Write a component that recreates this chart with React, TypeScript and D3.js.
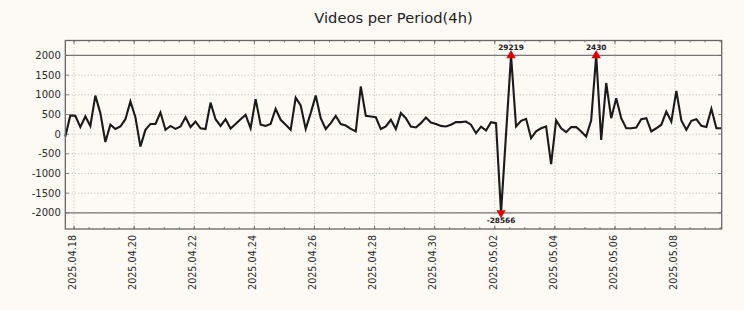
import React from "react";
import * as d3 from "d3";

// ---- data ----
const START_UTC = Date.UTC(2025, 3, 17, 17); // first 4h period
const PERIOD_HOURS = 4;
const VALUES: number[] = [
  -60, 475, 465, 180, 450, 210, 980, 535, -200, 240,
  130, 195, 380, 830, 430, -315, 110, 260, 260, 550,
  110, 210, 135, 195, 430, 180, 320, 150, 130, 800,
  380, 210, 380, 145, 260, 380, 490, 150, 890, 240,
  210, 260, 645, 365, 240, 110, 930, 730, 135, 535,
  980, 405, 130, 280, 465, 255, 220, 135, 70, 1210,
  465, 450, 430, 130, 195, 365, 130, 535, 405, 195,
  170, 280, 425, 295, 260, 210, 195, 240, 305, 305,
  320, 240, 25, 190, 95, 305, 280, -28566, 0, 29219,
  195, 340, 390, -100, 70, 150, 195, -760, 350, 150,
  50, 180, 180, 70, -60, 350, 2430, -145, 1300, 405,
  915, 405, 150, 150, 170, 380, 405, 70, 150, 240,
  575, 320, 1100, 350, 110, 340, 380, 210, 180, 645,
  150, 150,
];
const Y_TICKS = [2000, 1500, 1000, 500, 0, -500, -1000, -1500, -2000];
const X_TICK_LABELS = [
  "2025.04.18", "2025.04.20", "2025.04.22", "2025.04.24", "2025.04.26",
  "2025.04.28", "2025.04.30", "2025.05.02", "2025.05.04", "2025.05.06", "2025.05.08",
];
const CLIP = 2000;
const TITLE = "Videos per Period(4h)";

const W = 744, H = 310;
const PL = 65.3, PR = 721.7, PT = 40.5, PB = 229;
const BG = "#fdf9f4";
const FONT = "DejaVu Sans, sans-serif";

export default function App() {
  const times = VALUES.map((_, i) => new Date(START_UTC + i * PERIOD_HOURS * 3600e3));
  const pts = VALUES.map((v, i) => ({ t: times[i], v, c: Math.max(-CLIP, Math.min(CLIP, v)) }));
  const x = d3.scaleUtc().domain([times[0], times[times.length - 1]]).range([PL, 721.4]);
  const y = d3.scaleLinear().domain([-2410, 2380]).range([PB, PT]);
  const parse = d3.utcParse("%Y.%m.%d");
  const xTicks = X_TICK_LABELS.map((s) => ({ s, d: parse(s) as Date }));
  const minor = d3.utcHour.every(12)!.range(new Date(START_UTC), times[times.length - 1]);
  const line = d3.line<any>().x((d) => x(d.t)).y((d) => y(d.c));
  const extremes = pts.filter((p) => Math.abs(p.v) > CLIP);
  const tri = d3.symbol().type(d3.symbolTriangle).size(38)();

  return (
    <svg width={W} height={H} style={{ position: "absolute", left: 0, top: 0 }} fontFamily={FONT}>
      <rect x={0} y={0} width={W} height={H} fill={BG} />
      <text x={(PL + PR) / 2} y={23} textAnchor="middle" fontSize={14.7} fill="#222">{TITLE}</text>
      {/* grid */}
      {Y_TICKS.map((t) => (
        <line key={"gy" + t} x1={PL} x2={PR} y1={y(t)} y2={y(t)} stroke="#b8b8b8" strokeWidth={0.8} strokeDasharray="1.2,2" />
      ))}
      {xTicks.map((t) => (
        <line key={"gx" + t.s} x1={x(t.d)} x2={x(t.d)} y1={PT} y2={PB} stroke="#b8b8b8" strokeWidth={0.8} strokeDasharray="1.2,2" />
      ))}
      {/* threshold lines */}
      {[CLIP, -CLIP].map((t) => (
        <line key={"th" + t} x1={PL} x2={PR} y1={y(t)} y2={y(t)} stroke="#777" strokeWidth={1.2} />
      ))}
      {/* ticks */}
      {minor.map((d, i) => (
        <g key={"mn" + i}>
          <line x1={x(d)} x2={x(d)} y1={PB} y2={PB - 2} stroke="#666" strokeWidth={0.8} />
          <line x1={x(d)} x2={x(d)} y1={PT} y2={PT + 2} stroke="#666" strokeWidth={0.8} />
        </g>
      ))}
      {xTicks.map((t) => (
        <g key={"mj" + t.s}>
          <line x1={x(t.d)} x2={x(t.d)} y1={PB} y2={PB - 3.5} stroke="#666" strokeWidth={0.8} />
          <line x1={x(t.d)} x2={x(t.d)} y1={PT} y2={PT + 3.5} stroke="#666" strokeWidth={0.8} />
        </g>
      ))}
      {Y_TICKS.map((t) => (
        <g key={"yt" + t}>
          <line x1={PL} x2={PL + 3.5} y1={y(t)} y2={y(t)} stroke="#666" strokeWidth={0.8} />
          <line x1={PR} x2={PR - 3.5} y1={y(t)} y2={y(t)} stroke="#666" strokeWidth={0.8} />
          <text x={PL - 4.5} y={y(t)} dy="0.36em" textAnchor="end" fontSize={10} fill="#2a2a2a">{String(t)}</text>
        </g>
      ))}
      {xTicks.map((t) => (
        <text key={"xl" + t.s} transform={`translate(${x(t.d) + 1.8},${PB + 6}) rotate(-90)`} textAnchor="end" fontSize={9.6} fill="#2a2a2a">{t.s}</text>
      ))}
      {/* series */}
      <path d={line(pts) || ""} fill="none" stroke="#1a1a1a" strokeWidth={2.1} strokeLinejoin="miter" />
      {extremes.map((p, i) => {
        const up = p.v > 0;
        const cx = x(p.t), cy = y(p.c);
        return (
          <g key={"ex" + i}>
            <path d={tri || ""} transform={`translate(${cx},${cy}) rotate(${up ? 0 : 180})`} fill="#e00000" />
            <text x={cx} y={up ? cy - 5 : cy + 10.5} textAnchor="middle" fontSize={7.4} fontWeight="bold" fill="#222">{String(p.v)}</text>
          </g>
        );
      })}
      {/* frame */}
      <rect x={PL} y={PT} width={PR - PL} height={PB - PT} fill="none" stroke="#666" strokeWidth={1.3} />
    </svg>
  );
}
